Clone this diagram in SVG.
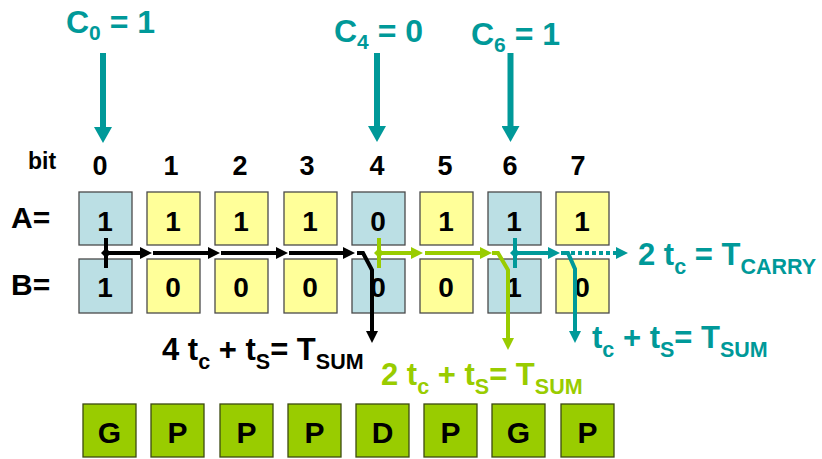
<svg xmlns="http://www.w3.org/2000/svg" width="822" height="459" viewBox="0 0 822 459">
<style>
text{font-family:"Liberation Sans",Arial,Helvetica,sans-serif;font-weight:bold}
.box{stroke:#4a4a4a;stroke-width:1.3}
.bl{fill:#BBDFE4}
.ye{fill:#FFFF99}
.gr{fill:#99CC00;stroke:#3c4a10;stroke-width:1.3}
.dig{font-size:28px;text-anchor:middle;fill:#000}
.let{font-size:30px;text-anchor:middle;fill:#000}
.bit{font-size:27px;text-anchor:middle;fill:#000}
.row{font-size:30px;fill:#000}
.cl{font-size:32px;fill:#009999}
.f{font-size:31px}
.sub{font-size:21.5px}
.csub{font-size:21px}
.k{stroke:#000;fill:none;stroke-width:4}
.gn{stroke:#99CC00;fill:none;stroke-width:4}
.tl{stroke:#009999;fill:none;stroke-width:4}
.carr{stroke:#009999;fill:none;stroke-width:6}
</style>
<defs>
<marker id="ak" viewBox="0 0 12 12" refX="6" refY="6" markerWidth="12" markerHeight="12" markerUnits="userSpaceOnUse" orient="auto"><path d="M0,0 L12,6 L0,12 z" fill="#000"/></marker>
<marker id="ag" viewBox="0 0 12 12" refX="6" refY="6" markerWidth="12" markerHeight="12" markerUnits="userSpaceOnUse" orient="auto"><path d="M0,0 L12,6 L0,12 z" fill="#99CC00"/></marker>
<marker id="at" viewBox="0 0 12 12" refX="6" refY="6" markerWidth="12" markerHeight="12" markerUnits="userSpaceOnUse" orient="auto"><path d="M0,0 L12,6 L0,12 z" fill="#009999"/></marker>
<marker id="dk" viewBox="0 0 10 10" refX="5" refY="5" markerWidth="10" markerHeight="10" markerUnits="userSpaceOnUse"><path d="M0,5 L5,0 L10,5 L5,10 z" fill="#000"/></marker>
<marker id="dg" viewBox="0 0 10 10" refX="5" refY="5" markerWidth="10" markerHeight="10" markerUnits="userSpaceOnUse"><path d="M0,5 L5,0 L10,5 L5,10 z" fill="#99CC00"/></marker>
<marker id="dt" viewBox="0 0 10 10" refX="5" refY="5" markerWidth="10" markerHeight="10" markerUnits="userSpaceOnUse"><path d="M0,5 L5,0 L10,5 L5,10 z" fill="#009999"/></marker>
<marker id="ac" viewBox="0 0 16 18" refX="4" refY="9" markerWidth="16" markerHeight="18" markerUnits="userSpaceOnUse" orient="auto"><path d="M0,0 L16,9 L0,18 z" fill="#009999"/></marker>
</defs>

<!-- labels -->
<g id="carry-labels">
<text class="cl" x="66" y="33">C<tspan class="csub" dy="7">0</tspan><tspan dy="-7"> = 1</tspan></text>
<text class="cl" x="334" y="42">C<tspan class="csub" dy="7">4</tspan><tspan dy="-7"> = 0</tspan></text>
<text class="cl" x="471" y="45">C<tspan class="csub" dy="7">6</tspan><tspan dy="-7"> = 1</tspan></text>
</g>
<g id="row-labels">
<text class="bit" x="42" y="169" style="font-size:23px">bit</text>
<text class="row" x="11" y="228">A=</text>
<text class="row" x="11" y="295">B=</text>
</g>
<g id="bit-numbers">
<text class="bit" x="100" y="175">0</text>
<text class="bit" x="171" y="175">1</text>
<text class="bit" x="240" y="175">2</text>
<text class="bit" x="307" y="175">3</text>
<text class="bit" x="377" y="175">4</text>
<text class="bit" x="445" y="175">5</text>
<text class="bit" x="510" y="175">6</text>
<text class="bit" x="578" y="175">7</text>
</g>

<!-- A row -->
<g id="a0"><rect class="box bl" x="79" y="192" width="53" height="53"/><text class="dig" x="105" y="231">1</text></g>
<g id="a1"><rect class="box ye" x="147" y="192" width="53" height="53"/><text class="dig" x="173" y="231">1</text></g>
<g id="a2"><rect class="box ye" x="215" y="192" width="53" height="53"/><text class="dig" x="241" y="231">1</text></g>
<g id="a3"><rect class="box ye" x="284" y="192" width="53" height="53"/><text class="dig" x="310" y="231">1</text></g>
<g id="a4"><rect class="box bl" x="352" y="192" width="53" height="53"/><text class="dig" x="378" y="231">0</text></g>
<g id="a5"><rect class="box ye" x="420" y="192" width="53" height="53"/><text class="dig" x="446" y="231">1</text></g>
<g id="a6"><rect class="box bl" x="488" y="192" width="53" height="53"/><text class="dig" x="514" y="231">1</text></g>
<g id="a7"><rect class="box ye" x="556" y="192" width="53" height="53"/><text class="dig" x="582" y="231">1</text></g>

<!-- B row -->
<g id="b0"><rect class="box bl" x="79" y="259" width="53" height="54"/><text class="dig" x="105" y="297">1</text></g>
<g id="b1"><rect class="box ye" x="147" y="259" width="53" height="54"/><text class="dig" x="173" y="297">0</text></g>
<g id="b2"><rect class="box ye" x="215" y="259" width="53" height="54"/><text class="dig" x="241" y="297">0</text></g>
<g id="b3"><rect class="box ye" x="284" y="259" width="53" height="54"/><text class="dig" x="310" y="297">0</text></g>
<g id="b4"><rect class="box bl" x="352" y="259" width="53" height="54"/><text class="dig" x="378" y="297">0</text></g>
<g id="b5"><rect class="box ye" x="420" y="259" width="53" height="54"/><text class="dig" x="446" y="297">0</text></g>
<g id="b6"><rect class="box bl" x="488" y="259" width="53" height="54"/><text class="dig" x="514" y="297">1</text></g>
<g id="b7"><rect class="box ye" x="556" y="259" width="53" height="54"/><text class="dig" x="582" y="297">0</text></g>

<!-- GPD row -->
<g id="s0"><rect class="gr" x="83" y="404" width="53" height="53"/><text class="let" x="109.5" y="443">G</text></g>
<g id="s1"><rect class="gr" x="151" y="404" width="53" height="53"/><text class="let" x="177.5" y="443">P</text></g>
<g id="s2"><rect class="gr" x="220" y="404" width="53" height="53"/><text class="let" x="246.5" y="443">P</text></g>
<g id="s3"><rect class="gr" x="288" y="404" width="53" height="53"/><text class="let" x="314.5" y="443">P</text></g>
<g id="s4"><rect class="gr" x="356" y="404" width="53" height="53"/><text class="let" x="382.5" y="443">D</text></g>
<g id="s5"><rect class="gr" x="424" y="404" width="53" height="53"/><text class="let" x="450.5" y="443">P</text></g>
<g id="s6"><rect class="gr" x="492" y="404" width="53" height="53"/><text class="let" x="518.5" y="443">G</text></g>
<g id="s7"><rect class="gr" x="561" y="404" width="53" height="53"/><text class="let" x="587.5" y="443">P</text></g>

<!-- connectors -->
<g id="connectors">
<line class="carr" x1="103" y1="53" x2="103" y2="131" marker-end="url(#ac)"/>
<line class="carr" x1="377" y1="53" x2="377" y2="130" marker-end="url(#ac)"/>
<line class="carr" x1="510.5" y1="53" x2="510.5" y2="130" marker-end="url(#ac)"/>

<line class="k" x1="106" y1="238" x2="106" y2="268"/>
<line class="k" x1="106" y1="253" x2="146" y2="253" marker-start="url(#dk)" marker-end="url(#ak)"/>
<line class="k" x1="153" y1="253" x2="214" y2="253" marker-end="url(#ak)"/>
<line class="k" x1="221" y1="253" x2="282" y2="253" marker-end="url(#ak)"/>
<line class="k" x1="289" y1="253" x2="349" y2="253" marker-end="url(#ak)"/>
<path class="k" d="M357,253 L363,253 L372,270 L372,337" marker-end="url(#ak)"/>

<line class="gn" x1="379" y1="238" x2="379" y2="268"/>
<line class="gn" x1="379" y1="253" x2="417" y2="253" marker-start="url(#dg)" marker-end="url(#ag)"/>
<line class="gn" x1="425" y1="253" x2="486" y2="253" marker-end="url(#ag)"/>
<path class="gn" d="M492,253 L498,253 L508,270 L508,344" marker-end="url(#ag)"/>

<line class="tl" x1="515" y1="238" x2="515" y2="268"/>
<line class="tl" x1="515" y1="253" x2="554" y2="253" marker-start="url(#dt)" marker-end="url(#at)"/>
<path class="tl" d="M561,253 L568,253 L575,269 L575,337" marker-end="url(#at)"/>
<line class="tl" x1="571" y1="253" x2="622" y2="253" stroke-width="3" stroke-dasharray="4 3" marker-end="url(#at)"/>
</g>

<!-- delay formulas -->
<g id="formulas">
<text class="f" x="162" y="360" fill="#000">4 t<tspan class="sub" dy="9">c</tspan><tspan dy="-9"> + t</tspan><tspan class="sub" dy="9">S</tspan><tspan dy="-9">= T</tspan><tspan class="sub" dy="9">SUM</tspan></text>
<text class="f" x="381" y="385" fill="#99CC00">2 t<tspan class="sub" dy="9">c</tspan><tspan dy="-9"> + t</tspan><tspan class="sub" dy="9">S</tspan><tspan dy="-9">= T</tspan><tspan class="sub" dy="9">SUM</tspan></text>
<text class="f" x="638" y="265" fill="#009999">2 t<tspan class="sub" dy="9">c</tspan><tspan dy="-9"> = T</tspan><tspan class="sub" dy="9">CARRY</tspan></text>
<text class="f" x="592" y="348" fill="#009999">t<tspan class="sub" dy="9">c</tspan><tspan dy="-9"> + t</tspan><tspan class="sub" dy="9">S</tspan><tspan dy="-9">= T</tspan><tspan class="sub" dy="9">SUM</tspan></text>
</g>
</svg>
